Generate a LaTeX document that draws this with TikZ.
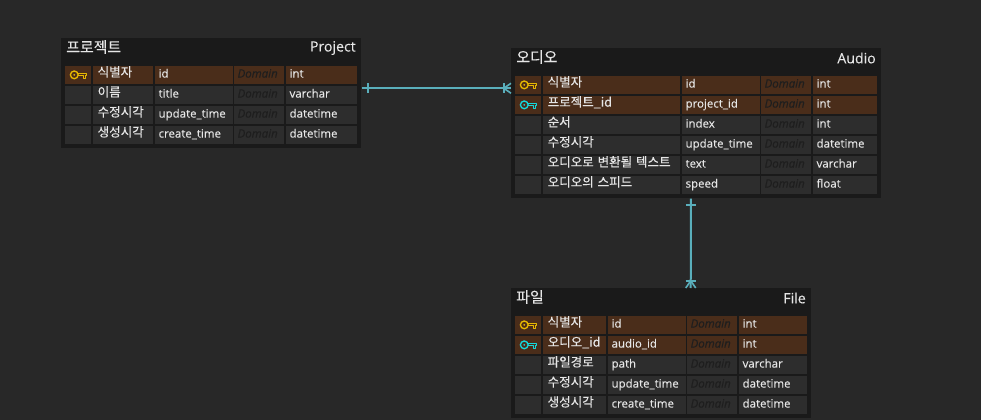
\documentclass[tikz,border=0pt]{standalone}
\usepackage{fontspec}
\setmainfont{Open Sans}[FakeBold=0.15]
\newfontfamily\kor{Noto Sans CJK KR}[FakeBold=0.25]

\definecolor{fondo}{HTML}{282828}
\definecolor{caja}{HTML}{1A1A1A}
\definecolor{celdagris}{HTML}{2D2D2D}
\definecolor{celdaclave}{HTML}{4A2D1A}
\definecolor{tinta}{HTML}{E6E6E6}
\definecolor{dominio}{HTML}{1E1E1E}
\definecolor{linea}{HTML}{5AAFBC}
\definecolor{claveP}{HTML}{E8B800}
\definecolor{claveF}{HTML}{14D8DC}

\tikzset{
	tabla/.style={draw=none, fill=caja, anchor=north west, inner sep=0pt},
	celda/.style={anchor=north west, inner xsep=2.5pt, inner ysep=0pt, minimum height=13.5pt, align=left, text=tinta, font=\fontsize{8.6}{9}\selectfont, text height=6.5pt, text depth=3pt},
	titulo/.style={inner sep=0pt, text=tinta, font=\fontsize{10.6}{10.5}\selectfont},
	relacion/.style={linea, line width=1.5pt}
}

% Celda de una fila: nombre, x inicial, x final, y, relleno, texto
\newcommand{\celda}[6]{%
	\pgfmathsetlengthmacro\anchoc{(#3-#2)*0.75pt-5pt}
	\node[celda, fill=#5, text width=\anchoc] (#1) at (#2,#4) {#6};
}
% Columnas de la tabla actual
\newcommand{\columnas}[6]{\def\xa{#1}\def\xb{#2}\def\xc{#3}\def\xd{#4}\def\xe{#5}\def\xf{#6}}
% Fila completa: nombre, y, relleno, coreano, codigo, tipo
\newcommand{\fila}[6]{%
	\pgfmathsetmacro\xaa{\xb-2}\pgfmathsetmacro\xbb{\xc-2}\pgfmathsetmacro\xcc{\xd-1}\pgfmathsetmacro\xdd{\xe-2}
	\celda{#1i}{\xa}{\xaa}{#2}{#3}{}
	\celda{#1n}{\xb}{\xbb}{#2}{#3}{\hspace*{0.8pt}\raisebox{0.75pt}{\fontsize{9.4}{9}\kor #4}}
	\celda{#1c}{\xc}{\xcc}{#2}{#3}{#5}
	\celda{#1d}{\xd}{\xdd}{#2}{#3}{\textcolor{dominio}{\itshape Domain}}
	\celda{#1t}{\xe}{\xf}{#2}{#3}{#6}
}
% Llave: nodo de la celda, color
\newcommand{\llave}[2]{%
	\draw[#2, line width=1pt] ([xshift=-3pt,yshift=0.3pt]#1.center) circle (2.9pt);
	\fill[#2] ([xshift=-3pt,yshift=0.3pt]#1.center) circle (0.8pt);
	\draw[#2, line width=0.8pt, line join=round] ([xshift=0pt,yshift=1.6pt]#1.center) -- ++(6.2pt,0) -- ++(0,-1.8pt) -- ++(-0.9pt,0) -- ++(0,-2.2pt) -- ++(-1.6pt,0) -- ++(0,2.2pt) -- ++(-3.7pt,0);
}

\begin{document}
\begin{tikzpicture}[x=0.75pt,y=-0.75pt]

	% Fondo
	\fill[fondo] (0,0) rectangle (981,420);
	\useasboundingbox (0,0) rectangle (981,420);

	% Tabla Project
	\node[tabla, minimum width=225pt, minimum height=82.5pt] (project) at (61,38) {};
	\node[titulo, anchor=west, font=\fontsize{11.2}{11}\selectfont] (projectkor) at (66,47) {\kor 프로젝트};
	\node[titulo, anchor=east] (projectname) at (356,48) {Project};
	\columnas{65}{93}{155}{234}{286}{357}
	\fila{pa}{66}{celdaclave}{식별자}{id}{int}
	\fila{pb}{86}{celdagris}{이름}{title}{varchar}
	\fila{pc}{106}{celdagris}{수정시각}{update\_time}{datetime}
	\fila{pd}{126}{celdagris}{생성시각}{create\_time}{datetime}
	\llave{pai}{claveP}

	% Tabla Audio
	\node[tabla, minimum width=277.5pt, minimum height=112.5pt] (audio) at (511,48) {};
	\node[titulo, anchor=west, font=\fontsize{11.2}{11}\selectfont] (audiokor) at (516,57) {\kor 오디오};
	\node[titulo, anchor=east] (audioname) at (876,58) {Audio};
	\columnas{515}{543}{682}{761}{813}{877}
	\fila{aa}{76}{celdaclave}{식별자}{id}{int}
	\fila{ab}{96}{celdaclave}{프로젝트\_id}{project\_id}{int}
	\fila{ac}{116}{celdagris}{순서}{index}{int}
	\fila{ad}{136}{celdagris}{수정시각}{update\_time}{datetime}
	\fila{ae}{156}{celdagris}{오디오로 변환될 텍스트}{text}{varchar}
	\fila{af}{176}{celdagris}{오디오의 스피드}{speed}{float}
	\llave{aai}{claveP}
	\llave{abi}{claveF}

	% Tabla File
	\node[tabla, minimum width=225pt, minimum height=97.5pt] (file) at (511,288) {};
	\node[titulo, anchor=west, font=\fontsize{11.2}{11}\selectfont] (filekor) at (516,297) {\kor 파일};
	\node[titulo, anchor=east] (filename) at (806,298) {File};
	\columnas{515}{543}{608}{687}{739}{807}
	\fila{fa}{316}{celdaclave}{식별자}{id}{int}
	\fila{fb}{336}{celdaclave}{오디오\_id}{audio\_id}{int}
	\fila{fc}{356}{celdagris}{파일경로}{path}{varchar}
	\fila{fd}{376}{celdagris}{수정시각}{update\_time}{datetime}
	\fila{fe}{396}{celdagris}{생성시각}{create\_time}{datetime}
	\llave{fai}{claveP}
	\llave{fbi}{claveF}

	% Relacion Project - Audio
	\draw[relacion] ([yshift=3.75pt]project.east) -- ([yshift=26.25pt]audio.west);
	\draw[relacion, line width=1.2pt] ([xshift=5pt,yshift=7.5pt]project.east) -- ++(0,-7.5pt);
	\draw[relacion, line width=1.2pt] ([xshift=-5.4pt,yshift=30pt]audio.west) -- ++(0,-7.5pt);
	\draw[relacion, line width=1.2pt] ([yshift=30pt]audio.west) -- ++(-5.4pt,-3.75pt) -- ++(5.4pt,-3.75pt);

	% Relacion Audio - File
	\draw[relacion] ([xshift=-4.1pt]audio.south) -- ([xshift=22.1pt]file.north);
	\draw[relacion, line width=1.2pt] ([xshift=-7.85pt,yshift=-5pt]audio.south) -- ++(7.5pt,0);
	\draw[relacion, line width=1.2pt] ([xshift=18.35pt,yshift=5.4pt]file.north) -- ++(7.5pt,0);
	\draw[relacion, line width=1.2pt] ([xshift=18.35pt]file.north) -- ++(3.75pt,5.4pt) -- ++(3.75pt,-5.4pt);

\end{tikzpicture}
\end{document}
